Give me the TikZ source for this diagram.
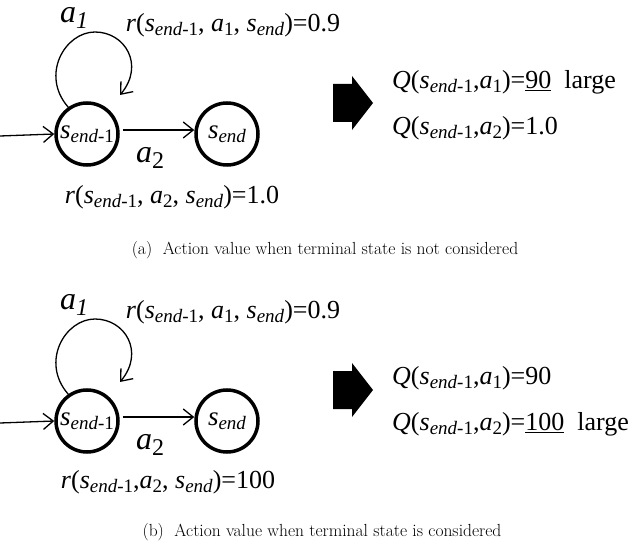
\documentclass[tikz,border=0pt]{standalone}
\usepackage{fontspec}
\setmainfont{Liberation Serif}
\newfontfamily\capfont{Latin Modern Roman}
\usetikzlibrary{arrows.meta}
\begin{document}
\begin{tikzpicture}[x=1pt,y=-1pt,
  st/.style={circle,draw,line width=3.5pt,minimum size=62pt,inner sep=0pt,font=\fontsize{27}{27}\selectfont},
  lbl/.style={font=\fontsize{26}{30}\selectfont,inner sep=0pt},
  arr/.style={-{Straight Barb[length=10pt,width=16pt]},line width=1.3pt},
  captext/.style={font=\capfont\fontsize{17.5}{20}\selectfont}]
\useasboundingbox (0,0) rectangle (640,545);
\newcommand\se{\textit{s}\raisebox{-0.35ex}{\fontsize{19}{19}\selectfont\textit{end}-1}}
\newcommand\sn{\textit{s}\raisebox{-0.35ex}{\fontsize{19}{19}\selectfont\textit{end}}}
\newcommand\sub[1]{\raisebox{-0.35ex}{\fontsize{19}{19}\selectfont #1}}
\foreach \dy/\p in {0/a,287/b}{
\begin{scope}[yshift=-\dy]
\node[st] (s1\p) at (87,134) {\hspace*{-6pt}\se\hspace*{-6pt}};
\node[st] (s2\p) at (227,134) {\sn};
\coordinate (in\p) at (0,136);
\draw[arr] (in\p) -- (s1\p.west);
\draw[arr] ([yshift=4pt,xshift=3pt]s1\p.east) -- ([yshift=4pt]s2\p.west);
\node[lbl] (a2\p) at (150,158) {\fontsize{32}{32}\selectfont\textit{a}\sub{\fontsize{24}{24}\selectfont 2}};
\draw[arr] (s1\p.125) .. controls (40,75) and (65,32) .. (95,32) .. controls (125,32) and (145,65) .. (120,95);
\node[lbl] (a1\p) at (74,18) {\fontsize{32}{32}\selectfont\textit{a}\sub{\fontsize{24}{24}\selectfont\textit{1}}};
\node[lbl] (r1\p) at (233,25) {\textit{r}(\se, \textit{a}\sub{1}, \sn)=0.9};
\fill (333,84) -- (352,84) -- (352,76) -- (373,103) -- (352,130) -- (352,122) -- (333,122) -- cycle;
\end{scope}}
\node[lbl] (r2a) at (172,197) {\textit{r}(\se, \textit{a}\sub{2}, \sn)=1.0};
\node[lbl,anchor=west] (q1a) at (392,82) {\textit{Q}(\se,\textit{a}\sub{1})=\underline{90}\ \ large};
\node[lbl,anchor=west] (q2a) at (392,128) {\textit{Q}(\se,\textit{a}\sub{2})=1.0};
\node[captext] (ca) at (325,250) {(a)\ \ Action value when terminal state is not considered};
\node[lbl] (r2b) at (168,482) {\textit{r}(\se,\textit{a}\sub{2}, \sn)=100};
\node[lbl,anchor=west] (q1b) at (392,378) {\textit{Q}(\se,\textit{a}\sub{1})=90};
\node[lbl,anchor=west] (q2b) at (392,424) {\textit{Q}(\se,\textit{a}\sub{2})=\underline{100}\ \ large};
\node[captext] (cb) at (322,532) {(b)\ \ Action value when terminal state is considered};
\end{tikzpicture}
\end{document}
